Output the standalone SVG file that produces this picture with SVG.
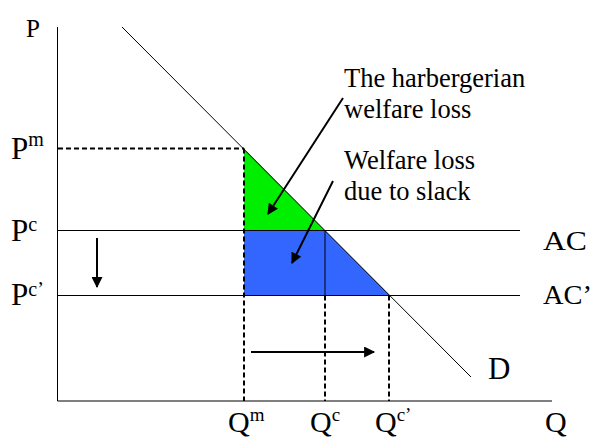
<svg xmlns="http://www.w3.org/2000/svg" width="600" height="439" viewBox="0 0 600 439">
<defs>
<style>
.ln{stroke:#000;stroke-width:1;fill:none}
.dash{stroke:#000;stroke-width:2;stroke-dasharray:5,3;fill:none}
.arr{stroke:#000;stroke-width:2;fill:none;marker-end:url(#ah)}
</style>
<marker id="ah" viewBox="0 0 10 10" refX="9" refY="5" markerWidth="6" markerHeight="5.5" orient="auto" markerUnits="strokeWidth">
<path d="M0,0 L10,5 L0,10 z" fill="#000"/>
</marker>
</defs>
<rect width="600" height="439" fill="#fff"/>
<g id="areas">
<polygon id="harberger" points="244,148.5 244,230.5 325,230.5" fill="#00ee00"/>
<polygon id="slack" points="244,230.5 325,230.5 390,295.5 244,295.5" fill="#3366ff"/>
</g>
<g id="axes">
<line class="ln" x1="57.5" y1="27" x2="57.5" y2="401"/>
<line class="ln" x1="57.5" y1="401" x2="552" y2="401"/>
</g>
<g id="curves">
<line id="demand" class="ln" x1="122" y1="27" x2="471" y2="377"/>
<line id="ac" class="ln" x1="57.5" y1="230.5" x2="520" y2="230.5"/>
<line id="ac2" class="ln" x1="57.5" y1="295.5" x2="520" y2="295.5"/>
<line class="ln" x1="325" y1="230.5" x2="325" y2="295.5" stroke-width="1.5"/>
</g>
<g id="guides">
<line class="dash" x1="58" y1="148.5" x2="244" y2="148.5"/>
<line class="dash" x1="244" y1="148.5" x2="244" y2="401"/>
<line class="dash" x1="325" y1="295.5" x2="325" y2="401"/>
<line class="dash" x1="389" y1="295.5" x2="389" y2="401"/>
</g>
<g id="connectors">
<line class="arr" x1="343" y1="98" x2="268" y2="214"/>
<line class="arr" x1="333" y1="181" x2="292" y2="263"/>
<line class="arr" x1="97" y1="238" x2="97" y2="287"/>
<line class="arr" x1="251" y1="352" x2="374" y2="352"/>
</g>
<g id="labels" font-family="'Liberation Serif', 'Times New Roman', 'DejaVu Serif', serif" fill="#000" font-size="31">
<text x="26" y="37" font-size="25">P</text>
<text x="11" y="159">P<tspan font-size="20" dy="-13">m</tspan></text>
<text x="11" y="241">P<tspan font-size="20" dy="-10">c</tspan></text>
<text x="11" y="305">P<tspan font-size="20" dy="-9">c’</tspan></text>
<text x="228" y="432" font-size="30">Q<tspan font-size="19" dy="-11">m</tspan></text>
<text x="310" y="432" font-size="30">Q<tspan font-size="19" dy="-11">c</tspan></text>
<text x="375" y="432" font-size="30">Q<tspan font-size="19" dy="-11">c’</tspan></text>
<text x="545" y="432" font-size="30">Q</text>
<text x="488" y="379">D</text>
<text x="543" y="250" font-size="28" textLength="44" lengthAdjust="spacingAndGlyphs">AC</text>
<text x="543" y="304" font-size="28" textLength="49" lengthAdjust="spacingAndGlyphs">AC’</text>
</g>
<g id="annotations" font-family="'Liberation Serif', 'Times New Roman', 'DejaVu Serif', serif" fill="#000" font-size="26.5">
<text x="344" y="87">The harbergerian</text>
<text x="344" y="118">welfare loss</text>
<text x="344" y="169">Welfare loss</text>
<text x="344" y="200">due to slack</text>
</g>
</svg>
